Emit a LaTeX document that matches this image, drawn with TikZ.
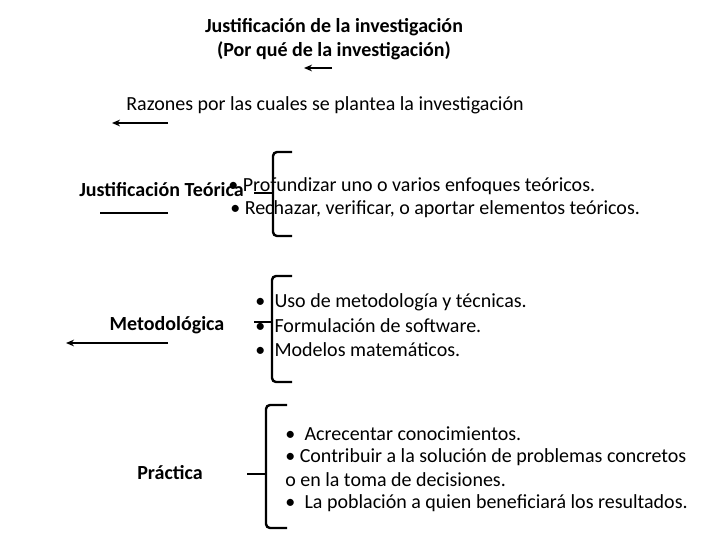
\documentclass[tikz,border=0pt]{standalone}
\usepackage{fontspec}
\setmainfont{Carlito}
\usetikzlibrary{arrows.meta}
\begin{document}
\begin{tikzpicture}[x=0.75pt,y=-0.75pt,
  txt/.style={anchor=west,inner sep=0pt,font=\fontsize{15}{17}\selectfont},
  bld/.style={inner sep=0pt,font=\bfseries\fontsize{15}{17}\selectfont},
  arr/.style={line width=1.6pt,-{Stealth[length=6pt,width=5pt]}},
  brk/.style={line width=1.8pt,rounded corners=3pt}]
\useasboundingbox (0,0) rectangle (720,540);
\node[bld] (t1) at (334,27) {Justificación de la investigación};
\node[bld] (t2) at (334,51) {(Por qué de la investigación)};
\coordinate (a1s) at (332,68); \coordinate (a1e) at (304,68);
\draw[arr,line width=1.2pt] (a1s) -- (a1e);
\node[txt,anchor=center] (raz) at (325,105) {Razones por las cuales se plantea la investigación};
\coordinate (a2s) at (168,123); \coordinate (a2e) at (112,123);
\draw[arr] (a2s) -- (a2e);

\node[bld,anchor=east] (jt) at (244,190) {Justificación Teórica};
\coordinate (a3s) at (168,213); \coordinate (a3e) at (100,213);
\draw[line width=1.6pt] (a3s) -- (a3e);
\draw[brk] (292,152) -- (273,152) -- (273,236) -- (292,236);
\coordinate (b1) at (273,193); \coordinate (b1t) at (254,193);
\draw[line width=1.8pt] (b1) -- (b1t);
\node[txt] (p1) at (228,186) {• Profundizar uno o varios enfoques teóricos.};
\node[txt] (p2) at (230,209) {• Rechazar, verificar, o aportar elementos teóricos.};

\node[bld] (met) at (167,325) {Metodológica};
\coordinate (a4s) at (168,343); \coordinate (a4e) at (66,343);
\draw[arr] (a4s) -- (a4e);
\draw[brk] (292,276) -- (272,276) -- (272,382) -- (292,382);
\coordinate (b2) at (272,322); \coordinate (b2t) at (254,322);
\draw[line width=1.8pt] (b2) -- (b2t);
\node[txt] (m1) at (255,302) {•\hspace{7pt}Uso de metodología y técnicas.};
\node[txt] (m2) at (255,326) {•\hspace{7pt}Formulación de software.};
\node[txt] (m3) at (255,350) {•\hspace{7pt}Modelos matemáticos.};

\node[bld] (pra) at (170,473) {Práctica};
\draw[brk] (287,405) -- (266,405) -- (266,528) -- (287,528);
\coordinate (b3) at (266,474); \coordinate (b3t) at (247,474);
\draw[line width=1.8pt] (b3) -- (b3t);
\node[txt] (q1) at (285,434) {•\hspace{7pt}Acrecentar conocimientos.};
\node[txt] (q2) at (285,457) {• Contribuir a la solución de problemas concretos};
\node[txt] (q3) at (285,480) {o en la toma de decisiones.};
\node[txt] (q4) at (285,503) {•\hspace{7pt}La población a quien beneficiará los resultados.};
\end{tikzpicture}
\end{document}
